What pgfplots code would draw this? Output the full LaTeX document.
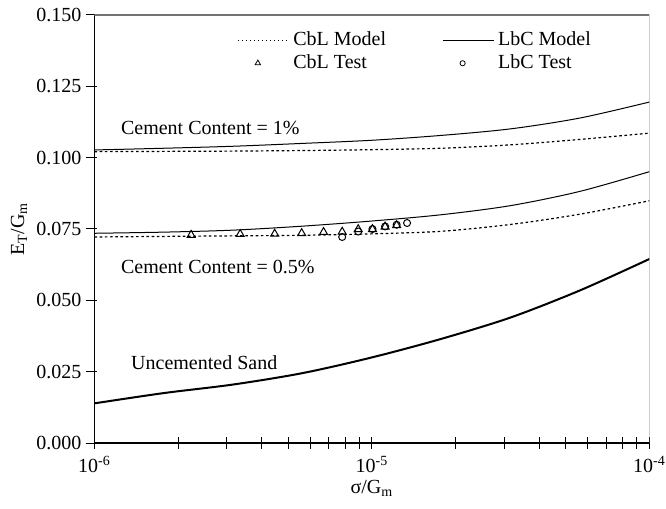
\documentclass[border=0pt]{standalone}
\usepackage{fontspec}
\setmainfont{Liberation Serif}
\usepackage{pgfplots}
\usepackage{pgfplotstable}
\pgfplotsset{compat=1.18}
\pgfplotstableread{
x y
1e-6 0.1027
1.778e-6 0.1033
3.162e-6 0.1040
5.623e-6 0.1050
1e-5 0.1061
1.778e-5 0.1078
3.162e-5 0.1101
5.623e-5 0.1139
1e-4 0.1195
}\lbcone
\pgfplotstableread{
x y
1e-6 0.1021
1.778e-6 0.1022
3.162e-6 0.1023
5.623e-6 0.1025
1e-5 0.1028
1.778e-5 0.1033
3.162e-5 0.1045
5.623e-5 0.1064
1e-4 0.1086
}\cblone
\pgfplotstableread{
x y
1e-6 0.0735
1.778e-6 0.0739
3.162e-6 0.0746
5.623e-6 0.0760
1e-5 0.0778
1.778e-5 0.0800
3.162e-5 0.0832
5.623e-5 0.0882
1e-4 0.0951
}\lbchalf
\pgfplotstableread{
x y
1e-6 0.0722
1.778e-6 0.0724
3.162e-6 0.0726
5.623e-6 0.0728
1e-5 0.0733
1.778e-5 0.0742
3.162e-5 0.0766
5.623e-5 0.0802
1e-4 0.0849
}\cblhalf
\pgfplotstableread{
x y
1e-6 0.0139
1.778e-6 0.0175
3.162e-6 0.0205
5.623e-6 0.0245
1e-5 0.0300
1.778e-5 0.0365
3.162e-5 0.0440
5.623e-5 0.0535
1e-4 0.0645
}\uncem
\pgfplotstableread{
x y
2.23e-6 0.0729
3.35e-6 0.0732
4.46e-6 0.0733
5.58e-6 0.0735
6.69e-6 0.0739
7.81e-6 0.0740
8.92e-6 0.0749
10.04e-6 0.0749
11.15e-6 0.0758
12.27e-6 0.0763
}\cbltest
\pgfplotstableread{
x y
7.81e-6 0.0722
8.92e-6 0.0741
10.04e-6 0.0750
11.15e-6 0.0759
12.27e-6 0.0765
13.38e-6 0.0771
}\lbctest
\pgfplotsset{
 legline/.style={legend image code/.code={\draw[##1] (0pt,0pt) -- (25.5pt,0pt);}},
 legmark/.style={legend image code/.code={\path[draw=none,fill=none] (0pt,-1pt) rectangle (25.5pt,1pt); \draw[##1] plot[only marks] coordinates {(10pt,0pt)};}},
}
\begin{document}
\begin{tikzpicture}
\begin{axis}[
 scale only axis, width=277.5pt, height=214pt,
 xmode=log, xmin=1e-6, xmax=1e-4, ymin=0, ymax=0.15,
 axis lines*=left,
 axis line style={line width=0.6pt},
 xtick={1e-6,1e-5,1e-4},
 xticklabels={10\textsuperscript{-6},10\textsuperscript{-5},10\textsuperscript{-4}},
 minor xtick={2e-6,3e-6,4e-6,5e-6,6e-6,7e-6,8e-6,9e-6,2e-5,3e-5,4e-5,5e-5,6e-5,7e-5,8e-5,9e-5},
 ytick={0,0.025,0.05,0.075,0.1,0.125,0.15},
 yticklabel style={/pgf/number format/.cd, fixed, fixed zerofill, precision=3, assume math mode=true},
 scaled y ticks=false,
 tick align=center, major tick length=6pt, minor tick length=6pt,
 tick style={black, line width=0.5pt},
 ytick style={xshift=-1.5pt},
 xlabel={σ/G\textsubscript{m}},
 ylabel={E\textsubscript{T}/G\textsubscript{m}},
 every axis x label/.style={at={(axis description cs:0.5,-0.105)}, anchor=center},
 every axis y label/.style={at={(axis description cs:-0.136,0.5)}, rotate=90, anchor=center},
 legend columns=2,
 legend cell align=left,
 legend style={draw=none, fill=none, at={(axis description cs:0.2567,0.914)}, anchor=west,
   inner xsep=0pt, inner ysep=0pt, row sep=1pt,
   nodes={inner xsep=2pt, inner ysep=1pt},
   /tikz/every even column/.append style={column sep=26pt}},
]
\coordinate (sw) at (rel axis cs:0,0);
\coordinate (ne) at (rel axis cs:1,1);
\addlegendimage{black, line width=0.5pt, dash pattern=on 0.6pt off 1.4pt, legline}
\addlegendentry{CbL Model}
\addlegendimage{black, line width=0.5pt, legline}
\addlegendentry{LbC Model}
\addlegendimage{black, mark=triangle, mark size=1.6pt, legmark}
\addlegendentry{CbL Test}
\addlegendimage{black, mark=o, mark size=1.3pt, legmark}
\addlegendentry{LbC Test}

\addplot[forget plot, black, line width=0.5pt, smooth] table {\lbcone};
\addplot[forget plot, black, line width=0.6pt, dash pattern=on 1.3pt off 1.3pt, smooth] table {\cblone};
\addplot[forget plot, black, line width=0.5pt, smooth] table {\lbchalf};
\addplot[forget plot, black, line width=0.6pt, dash pattern=on 1.3pt off 1.3pt, smooth] table {\cblhalf};
\addplot[forget plot, black, line width=1pt, smooth] table {\uncem};
\addplot[forget plot, black, only marks, mark=triangle, mark size=2.3pt, mark options={line width=0.5pt}] table {\cbltest};
\addplot[forget plot, black, only marks, mark=o, mark size=1.75pt, mark options={line width=0.5pt}] table {\lbctest};

\node[anchor=west, inner sep=0pt] at (axis cs:1.243e-6,0.1104) {Cement Content = 1\%};
\node[anchor=west, inner sep=0pt] at (axis cs:1.243e-6,0.0618) {Cement Content = 0.5\%};
\node[anchor=west, inner sep=0pt] at (axis cs:1.352e-6,0.0280) {Uncemented Sand};
\draw[black!55, line width=0.6pt] (rel axis cs:0,1) -- (rel axis cs:1,1) -- (rel axis cs:1,0);
\end{axis}
\pgfresetboundingbox
\path ([shift={(-47.25pt,-32.5pt)}]sw) rectangle ([shift={(8.25pt,7.5pt)}]ne);
\end{tikzpicture}
\end{document}
